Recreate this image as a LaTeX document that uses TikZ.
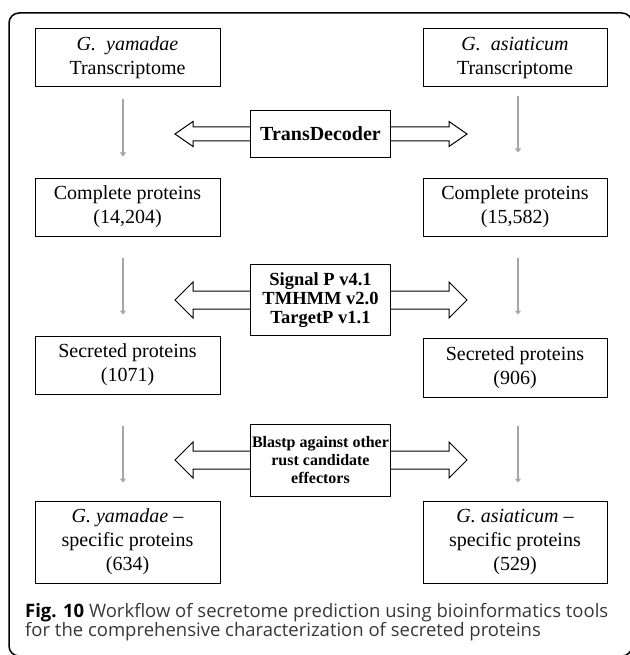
\documentclass[tikz,border=0pt]{standalone}
\usepackage{fontspec}
\setmainfont{Liberation Serif}
\newfontfamily\capfont{Open Sans}
\usetikzlibrary{arrows.meta}

\begin{document}
\begin{tikzpicture}[
    x=1pt, y=-1pt,
    box/.style={draw, line width=1pt, minimum width=185, minimum height=58,
                align=center, inner sep=0pt, font=\fontsize{20}{24}\selectfont},
    tool/.style={draw, line width=1pt, fill=white, minimum width=140,
                 align=center, inner sep=0pt},
    flow/.style={draw=black!35, line width=2.8pt, -{Triangle[length=4pt, width=6pt]}},
    twoway/.style={draw, line width=1pt, fill=white, line join=miter},
    caption/.style={anchor=base west, inner sep=0pt, text=black!78,
                    font=\capfont\fontsize{18.5}{19}\selectfont},
]

\useasboundingbox (0,0) rectangle (629,655);

% Outer frame
\draw[line width=1.5pt, rounded corners=10pt] (9,13) rectangle (632,656);

% Left column: G. yamadae
\node[box] (yamT) at (127.5,58) {\textit{G.~~yamadae}\\Transcriptome};
\node[box] (yamC) at (127.5,207) {Complete proteins\\(14,204)};
\node[box] (yamS) at (127.5,365) {Secreted proteins\\(1071)};
\node[box, minimum height=82] (yamX) at (127.5,542)
      {\textit{G. yamadae} –\\specific proteins\\(634)};

% Right column: G. asiaticum
\node[box, minimum width=184] (asiT) at (515,58) {\textit{G.~~asiaticum}\\Transcriptome};
\node[box, minimum width=184] (asiC) at (515,207) {Complete proteins\\(15,582)};
\node[box, minimum width=184, minimum height=59] (asiS) at (515,367.5)
      {Secreted proteins\\(906)};
\node[box, minimum width=184, minimum height=82] (asiX) at (515,542)
      {\textit{G. asiaticum} –\\specific proteins\\(529)};

% Gray flow arrows
\draw[flow, shorten <=12pt, shorten >=21pt] ([xshift=-4.5pt]yamT.south) -- ([xshift=-4.5pt]yamC.north);
\draw[flow, shorten <=21pt, shorten >=21pt] ([xshift=-4.5pt]yamC.south) -- ([xshift=-4.5pt]yamS.north);
\draw[flow, shorten <=31pt, shorten >=18pt] ([xshift=-4.5pt]yamS.south) -- ([xshift=-4.5pt]yamX.north);

\draw[flow, shorten <=9pt, shorten >=25pt] ([xshift=3pt]asiT.south) -- ([xshift=3pt]asiC.north);
\draw[flow, shorten <=21pt, shorten >=23pt] ([xshift=3pt]asiC.south) -- ([xshift=3pt]asiS.north);
\draw[flow, shorten <=28pt, shorten >=18pt] ([xshift=3pt]asiS.south) -- ([xshift=3pt]asiX.north);

% Two-way block arrows (drawn under the tool boxes)
\draw[twoway] (175,134) -- (193,121.5) -- (193,127) -- (449,127) -- (449,121.5) -- (467,134)
      -- (449,146.5) -- (449,141) -- (193,141) -- (193,146.5) -- cycle;
\draw[twoway] (175,300) -- (193,282) -- (193,291) -- (449,291) -- (449,282) -- (467,300)
      -- (449,318) -- (449,309) -- (193,309) -- (193,318) -- cycle;
\draw[twoway] (175,460) -- (193,442) -- (193,451) -- (449,451) -- (449,442) -- (467,460)
      -- (449,478) -- (449,469) -- (193,469) -- (193,478) -- cycle;

% Tool boxes
\node[tool, minimum height=46.5, font=\bfseries\fontsize{20}{24}\selectfont] (tdec) at (320.5,134)
      {TransDecoder};
\node[tool, minimum height=71, font=\bfseries\fontsize{18.5}{19}\selectfont] (sigp) at (320.5,300)
      {Signal P v4.1\\TMHMM v2.0\\TargetP v1.1};
\node[tool, minimum height=72, font=\bfseries\fontsize{16}{17.7}\selectfont] (blst) at (320.5,460)
      {Blastp against other\\rust candidate\\effectors};

% Caption
\node[caption] (cap1) at (25,617.5)
      {\textcolor{black}{\bfseries Fig. 10} Workflow of secretome prediction using bioinformatics tools};
\node[caption] (cap2) at (25,636.5)
      {for the comprehensive characterization of secreted proteins};

\end{tikzpicture}
\end{document}
